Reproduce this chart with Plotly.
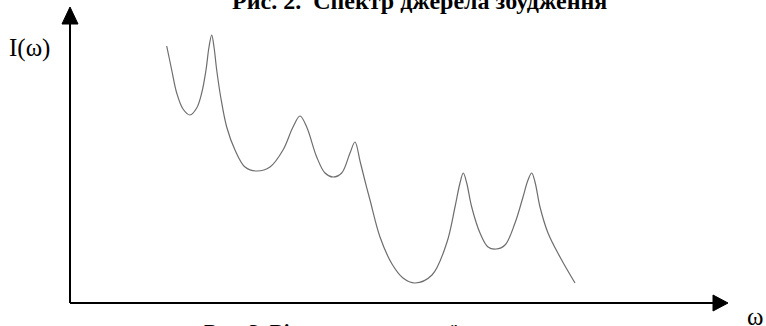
import plotly.graph_objects as go

# Spectrum I(omega): sampled points along the curve (arbitrary units)
omega = [0.967, 1.017, 1.067, 1.13, 1.20, 1.267, 1.317, 1.36, 1.39, 1.417,
         1.44, 1.467, 1.507, 1.567, 1.65, 1.75, 1.867, 2.00, 2.13, 2.23,
         2.30, 2.367, 2.467, 2.55, 2.63, 2.717, 2.80, 2.85, 2.90, 2.95,
         3.00, 3.10, 3.22, 3.33, 3.45, 3.62, 3.767, 3.85, 3.90, 3.933,
         3.967, 4.017, 4.10, 4.18, 4.26, 4.35, 4.45, 4.53, 4.58, 4.617,
         4.65, 4.70, 4.78, 4.90, 5.05]
intensity = [2.57, 2.33, 2.10, 1.94, 1.88, 1.95, 2.10, 2.33, 2.56, 2.68,
             2.56, 2.33, 2.06, 1.76, 1.53, 1.36, 1.32, 1.36, 1.53, 1.76,
             1.87, 1.76, 1.46, 1.30, 1.26, 1.30, 1.50, 1.61, 1.42, 1.22,
             1.03, 0.66, 0.39, 0.25, 0.20, 0.28, 0.60, 0.96, 1.20, 1.30,
             1.20, 0.96, 0.70, 0.56, 0.54, 0.58, 0.80, 1.06, 1.23, 1.30,
             1.21, 0.96, 0.70, 0.46, 0.20]

title_text = "Рис. 2.  Спектр джерела збудження"
caption_text = "Рис. 3. Відгук коливальної системи"
y_label = "I(ω)"
x_label = "ω"

serif = "Liberation Serif, Times New Roman, serif"

fig = go.Figure()
fig.add_trace(go.Scatter(
    x=omega, y=intensity, mode="lines",
    line=dict(color="#6e6e6e", width=1.2, shape="spline", smoothing=1.0),
    hoverinfo="skip", showlegend=False,
))

axis_col = "black"
shapes = [
    # vertical axis + arrowhead
    dict(type="line", x0=0, y0=0, x1=0, y1=2.85, line=dict(color=axis_col, width=2)),
    dict(type="path", path="M -0.08 2.79 L 0 2.96 L 0.08 2.79 Z",
         fillcolor=axis_col, line=dict(color=axis_col, width=1)),
    # horizontal axis + arrowhead
    dict(type="line", x0=0, y0=0, x1=6.48, y1=0, line=dict(color=axis_col, width=2)),
    dict(type="path", path="M 6.43 0.08 L 6.58 0 L 6.43 -0.08 Z",
         fillcolor=axis_col, line=dict(color=axis_col, width=1)),
]

annotations = [
    dict(xref="paper", yref="paper", x=0.039, y=0.853, text=y_label, showarrow=False,
         font=dict(family=serif, size=25, color="black"),
         xanchor="center", yanchor="middle"),
    dict(xref="paper", yref="paper", x=0.9856, y=0.03, text=x_label, showarrow=False,
         font=dict(family=serif, size=25, color="black"),
         xanchor="center", yanchor="middle"),
    dict(xref="paper", yref="paper", x=0.547, y=0.997, text="<b>" + title_text + "</b>",
         showarrow=False, font=dict(family=serif, size=24, color="black"),
         xanchor="center", yanchor="middle"),
    dict(xref="paper", yref="paper", x=0.2637, y=-0.018, text="<b>" + caption_text + "</b>",
         showarrow=False, font=dict(family=serif, size=21, color="black"),
         xanchor="left", yanchor="middle"),
]

fig.update_layout(
    width=766, height=326,
    margin=dict(l=0, r=0, t=0, b=0),
    paper_bgcolor="white", plot_bgcolor="white",
    xaxis=dict(range=[-0.70, 6.96], visible=False, fixedrange=True),
    yaxis=dict(range=[-0.23, 3.03], visible=False, fixedrange=True),
    shapes=shapes,
    annotations=annotations,
)

fig.write_html("out.html")
